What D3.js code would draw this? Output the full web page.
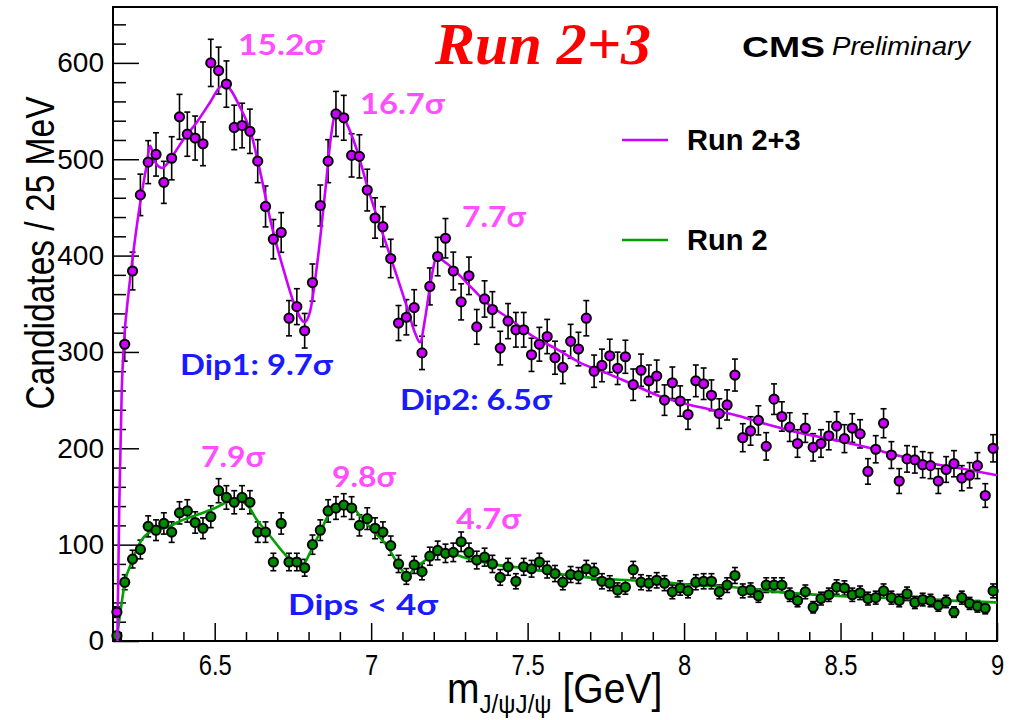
<!DOCTYPE html>
<html><head><meta charset="utf-8">
<script src="https://cdn.jsdelivr.net/npm/d3@7"></script>
<style>body{margin:0;background:#fff}svg{display:block}</style>
</head><body><svg id="c" width="1011" height="720"></svg>
<script>
// ---------------- data ----------------
const binLow = 6.175, binWidth = 0.025;   // 113 bins of 25 MeV
const run23Counts = [30,308,384,463,497,505,476,501,544,526,522,516,600,592,578,533,535,529,498,451,
417,424,335,347,322,372,452,498,547,543,504,503,468,439,430,397,330,336,346,299,
368,399,418,384,352,379,326,355,344,304,332,323,323,297,308,316,294,284,311,303,
335,280,286,296,283,295,266,281,270,275,250,268,249,235,270,267,255,236,245,276,
211,218,229,202,251,233,222,205,221,201,205,213,223,210,221,215,176,199,226,193,
166,189,188,183,182,166,178,184,169,172,182,151,200];
const run2Counts = [5.5,61,85,95,119,115,122,113,133,135,123,117,129,156,149,144,149,144,113,113,
82,122,82,82,76,100,115,135,138,141,138,120,127,117,113,99,80,67,79,72,
88,94,91,92,103,92,84,87,80,66,77,62,77,75,82,74,70,61,69,68,
75,72,62,60,53,56,74,61,60,63,60,51,55,52,61,62,62,51,58,68,
52,53,47,58,58,58,48,42,51,35,44,48,56,55,48,50,44,45,52,45,
42,49,40,43,42,37,41,30,45,39,36,34,52];
const run23FitMass = [6.189,6.195,6.203,6.210,6.225,6.241,6.262,6.281,6.294,6.310,6.332,6.364,6.401,6.444,6.487,6.517,6.535,6.551,6.578,6.616,6.648,6.680,6.723,6.755,6.787,6.804,6.830,6.852,6.873,6.884,6.900,6.922,6.954,6.986,7.018,7.050,7.082,7.114,7.140,7.156,7.172,7.188,7.210,7.241,7.305,7.369,7.444,7.518,7.593,7.667,7.753,7.838,7.923,8.008,8.157,8.264,8.371,8.477,8.584,8.690,8.797,8.903,9.0];
const run23FitVal = [0,139,261,309,362,406,455,491,514,497,491,503,521,539,560,575,577,572,556,527,483,434,382,349,331,341,398,463,527,546,549,537,510,474,441,410,379,347,320,310,334,368,398,392,372,351,334,316,303,289,278,266,254,246,235,225,216,209,201,192,184,178,172];
const run2FitMass = [6.187,6.197,6.213,6.235,6.261,6.293,6.347,6.400,6.453,6.501,6.538,6.570,6.602,6.634,6.677,6.719,6.751,6.783,6.805,6.837,6.868,6.900,6.932,6.964,7.007,7.050,7.082,7.114,7.140,7.178,7.220,7.263,7.295,7.401,7.508,7.614,7.721,7.827,7.934,8.040,8.147,8.264,8.477,8.690,9.0];
const run2FitVal = [2,26,61,82,102,113,118,126,132,138,144,146,142,126,109,92,82,80,92,113,133,140,141,130,114,99,82,69,75,85,90,90,87,79,75,69,65,63,61,58,56,52,47,44,40];
const xMajorTicks = [6.5,7,7.5,8,8.5,9];
const xTickLabels = ["6.5","7","7.5","8","8.5","9"];
const yMajorTicks = [0,100,200,300,400,500,600];
const yTickLabels = ["0","100","200","300","400","500","600"];
const seriesNames = ["Run 2+3","Run 2"];

// ---------------- drawing ----------------
const svg = d3.select("#c");
svg.append("rect").attr("width",1011).attr("height",720).attr("fill","#fff");
const x = d3.scaleLinear().domain([6.175, 9.0]).range([113, 997]);
const y = d3.scaleLinear().domain([0, 658]).range([641, 7]);

const xMinor = d3.range(62,91).map(d=>d/10).filter(d=>!xMajorTicks.some(m=>Math.abs(m-d)<1e-6));
const yMinor = d3.range(0,660,20).filter(d=>d%100!==0);

// axes
const gx = svg.append("g").attr("transform","translate(0,641)");
gx.call(d3.axisBottom(x).tickValues(xMinor).tickSize(-9).tickFormat(""));
gx.call(g=>g.selectAll(".tick line").attr("stroke","#000").attr("stroke-width",1.5));
const gx2 = svg.append("g").attr("transform","translate(0,641)");
gx2.call(d3.axisBottom(x).tickValues(xMajorTicks).tickSize(-18).tickPadding(10)
  .tickFormat((d,i)=>xTickLabels[i]));
gx2.selectAll(".tick line").attr("stroke","#000").attr("stroke-width",1.5);
gx2.selectAll("text").attr("font-family","'Liberation Sans', Arial, sans-serif")
  .attr("font-size",29).attr("fill","#000").attr("dy","0.95em").attr("y",6)
  .attr("transform","scale(0.82,1)");
[gx,gx2].forEach(g=>g.select(".domain").remove());

const gy = svg.append("g").attr("transform","translate(113,0)");
gy.call(d3.axisLeft(y).tickValues(yMinor).tickSize(-13).tickFormat(""));
gy.selectAll(".tick line").attr("stroke","#000").attr("stroke-width",1.5);
const gy2 = svg.append("g").attr("transform","translate(113,0)");
gy2.call(d3.axisLeft(y).tickValues(yMajorTicks).tickSize(-26).tickPadding(9)
  .tickFormat((d,i)=>yTickLabels[i]));
gy2.selectAll(".tick line").attr("stroke","#000").attr("stroke-width",1.5);
gy2.selectAll("text").attr("font-family","'Liberation Sans', Arial, sans-serif")
  .attr("font-size",28).attr("fill","#000");
[gy,gy2].forEach(g=>g.select(".domain").remove());

// frame
svg.append("rect").attr("x",113).attr("y",7).attr("width",884).attr("height",634)
  .attr("fill","none").attr("stroke","#000").attr("stroke-width",2);

// series
const series = [
  {counts: run2Counts, fx: run2FitMass, fy: run2FitVal, fill:"#008a00", line:"#00a000"},
  {counts: run23Counts, fx: run23FitMass, fy: run23FitVal, fill:"#cc00ff", line:"#cc00ff"}
];
const lineGen = d3.line().x(d=>x(d[0])).y(d=>y(d[1])).curve(d3.curveMonotoneX);
series.forEach(s=>{
  const pts = s.counts.map((v,i)=>({m: binLow + binWidth*(i+0.5), v}));
  const g = svg.append("g");
  const eb = g.append("g").attr("stroke","#000").attr("stroke-width",1.6);
  pts.forEach(p=>{
    const e = Math.sqrt(p.v), cx = x(p.m);
    const y1 = y(Math.max(0,p.v-e)), y2 = y(p.v+e);
    eb.append("line").attr("x1",cx).attr("x2",cx).attr("y1",y1).attr("y2",y2);
    eb.append("line").attr("x1",cx-3).attr("x2",cx+3).attr("y1",y1).attr("y2",y1);
    eb.append("line").attr("x1",cx-3).attr("x2",cx+3).attr("y1",y2).attr("y2",y2);
  });
  g.append("path").datum(s.fx.map((m,i)=>[m,s.fy[i]])).attr("d",lineGen)
    .attr("fill","none").attr("stroke",s.line).attr("stroke-width",2.6);
  g.selectAll("circle").data(pts).join("circle")
    .attr("cx",d=>x(d.m)).attr("cy",d=>y(d.v)).attr("r",4.6)
    .attr("fill",s.fill).attr("stroke","#000").attr("stroke-width",2);
});

// annotations
const annFont = "Lato, 'Open Sans', sans-serif";
const anns = [
  ["15.2σ",238,45,87,"#ff4dff"],["16.7σ",360,104,85,"#ff4dff"],["7.7σ",462,217,64,"#ff4dff"],
  ["7.9σ",201,457,64,"#ff4dff"],["9.8σ",332,477,64,"#ff4dff"],["4.7σ",456,519,65,"#ff4dff"],
  ["Dip1: 9.7σ",180,365,153,"#1a1aff"],["Dip2: 6.5σ",400,400,152,"#1a1aff"],["Dips < 4σ",288,605,150,"#1a1aff"]
];
anns.forEach(a=>{
  svg.append("text").text(a[0]).attr("x",a[1]).attr("y",a[2]).attr("dy","0.36em")
    .attr("font-family",annFont).attr("font-weight","bold").attr("font-size",29)
    .attr("fill",a[4]).attr("textLength",a[3]).attr("lengthAdjust","spacingAndGlyphs");
});

// title texts
svg.append("text").text("Run 2+3").attr("x",543).attr("y",64).attr("text-anchor","middle")
  .attr("font-family","'Liberation Serif', 'Times New Roman', serif").attr("font-style","italic")
  .attr("font-weight","bold").attr("font-size",60).attr("fill","#ff0000");
svg.append("text").text("CMS").attr("x",742).attr("y",57)
  .attr("font-family","'Liberation Sans', Arial, sans-serif").attr("font-weight","bold")
  .attr("font-size",30).attr("fill","#000").attr("textLength",83).attr("lengthAdjust","spacingAndGlyphs");
svg.append("text").text("Preliminary").attr("x",832).attr("y",55)
  .attr("font-family","'Liberation Sans', Arial, sans-serif").attr("font-style","italic")
  .attr("font-size",25).attr("fill","#000").attr("textLength",138).attr("lengthAdjust","spacingAndGlyphs");

// legend
const legY = [140,240];
series.slice().reverse().forEach((s,i)=>{
  svg.append("line").attr("x1",622).attr("x2",668).attr("y1",legY[i]).attr("y2",legY[i])
    .attr("stroke",s.line).attr("stroke-width",2.6);
  svg.append("text").text(seriesNames[i]).attr("x",687).attr("y",legY[i]).attr("dy","0.36em")
    .attr("font-family","'Liberation Sans', Arial, sans-serif").attr("font-weight","bold")
    .attr("font-size",29).attr("fill","#000");
});

// axis titles
svg.append("text").attr("transform","translate(40,253) rotate(-90)").attr("text-anchor","middle")
  .attr("dy","0.36em")
  .attr("font-family","'Liberation Sans', Arial, sans-serif").attr("font-size",40)
  .attr("textLength",313).attr("lengthAdjust","spacingAndGlyphs")
  .text("Candidates / 25 MeV");
const xt = svg.append("text").attr("transform","translate(447,703) scale(0.93,1)")
  .attr("font-family","'Liberation Sans', Arial, sans-serif").attr("font-size",42);
xt.append("tspan").text("m");
xt.append("tspan").text("J/ψJ/ψ").attr("font-size",26).attr("dy",10);
xt.append("tspan").text(" [GeV]").attr("dy",-10);
</script></body></html>
